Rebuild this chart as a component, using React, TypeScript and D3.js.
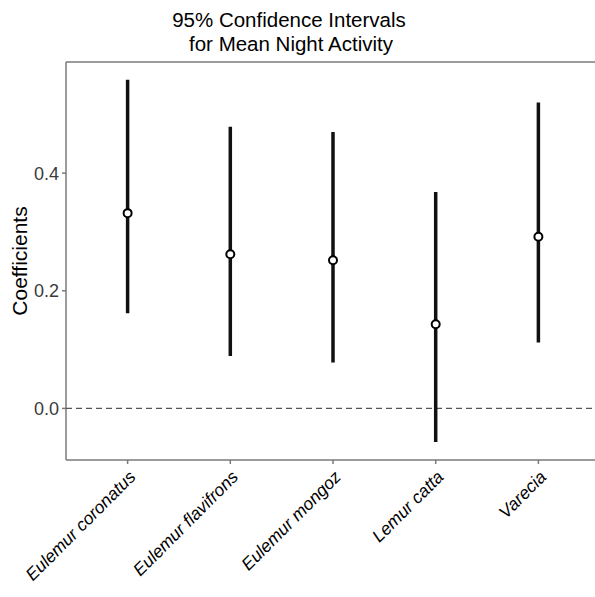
import React from 'react';
import * as d3 from 'd3';

const species = ['Eulemur coronatus', 'Eulemur flavifrons', 'Eulemur mongoz', 'Lemur catta', 'Varecia'];
const estimates = [0.332, 0.262, 0.252, 0.143, 0.292];
const lower = [0.162, 0.089, 0.078, -0.057, 0.112];
const upper = [0.559, 0.479, 0.470, 0.368, 0.520];
const yTicks = [0, 0.2, 0.4];

const W = 595;
const H = 597;
const left = 66;
const right = 600;
const top = 62;
const bottom = 460;
const font = 'Liberation Sans, Arial, Helvetica, sans-serif';

const App = () => {
  const x = d3.scalePoint<string>().domain(species).range([left, right]).padding(0.6);
  const y = d3.scaleLinear().domain([-0.0877, 0.589]).range([bottom, top]);

  return (
    <svg width={W} height={H} style={{ position: 'absolute', left: 0, top: 0, background: '#fff' }}>
      {/* title */}
      <text x={289} y={27} textAnchor="middle" fontFamily={font} fontSize={20.5} fill="#000">
        95% Confidence Intervals
      </text>
      <text x={291} y={51} textAnchor="middle" fontFamily={font} fontSize={20.5} fill="#000">
        for Mean Night Activity
      </text>

      {/* panel border */}
      <line x1={left} x2={W} y1={top} y2={top} stroke="#7a7a7a" strokeWidth={1.5} />
      <line x1={left} x2={W} y1={bottom} y2={bottom} stroke="#7a7a7a" strokeWidth={1.5} />
      <line x1={left} x2={left} y1={top} y2={bottom} stroke="#7a7a7a" strokeWidth={1.5} />

      {/* zero reference */}
      <line x1={left} x2={W} y1={y(0)} y2={y(0)} stroke="#555" strokeWidth={1.2} strokeDasharray="6,4" />

      {/* y axis */}
      {yTicks.map((t) => (
        <g key={t}>
          <line x1={left - 4} x2={left} y1={y(t)} y2={y(t)} stroke="#7a7a7a" strokeWidth={1.5} />
          <text x={left - 7} y={y(t)} dy="0.36em" textAnchor="end" fontFamily={font} fontSize={18} fill="#3a3a3a">
            {t.toFixed(1)}
          </text>
        </g>
      ))}
      <text
        transform={`translate(27,${(top + bottom) / 2}) rotate(-90)`}
        textAnchor="middle"
        fontFamily={font}
        fontSize={21}
        fill="#000"
      >
        Coefficients
      </text>

      {/* x axis */}
      {species.map((s) => (
        <g key={s}>
          <line x1={x(s)} x2={x(s)} y1={bottom} y2={bottom + 4} stroke="#7a7a7a" strokeWidth={1.5} />
          <text
            transform={`translate(${(x(s) as number) + 9},${bottom + 18}) rotate(-45)`}
            textAnchor="end"
            fontFamily={font}
            fontSize={17.5}
            fontStyle="italic"
            fill="#000"
          >
            {s}
          </text>
        </g>
      ))}

      {/* intervals */}
      {species.map((s, i) => (
        <g key={s}>
          <line x1={x(s)} x2={x(s)} y1={y(lower[i])} y2={y(upper[i])} stroke="#111" strokeWidth={3.5} />
          <circle cx={x(s)} cy={y(estimates[i])} r={4} fill="#fff" stroke="#000" strokeWidth={2} />
        </g>
      ))}
    </svg>
  );
};

export default App;
